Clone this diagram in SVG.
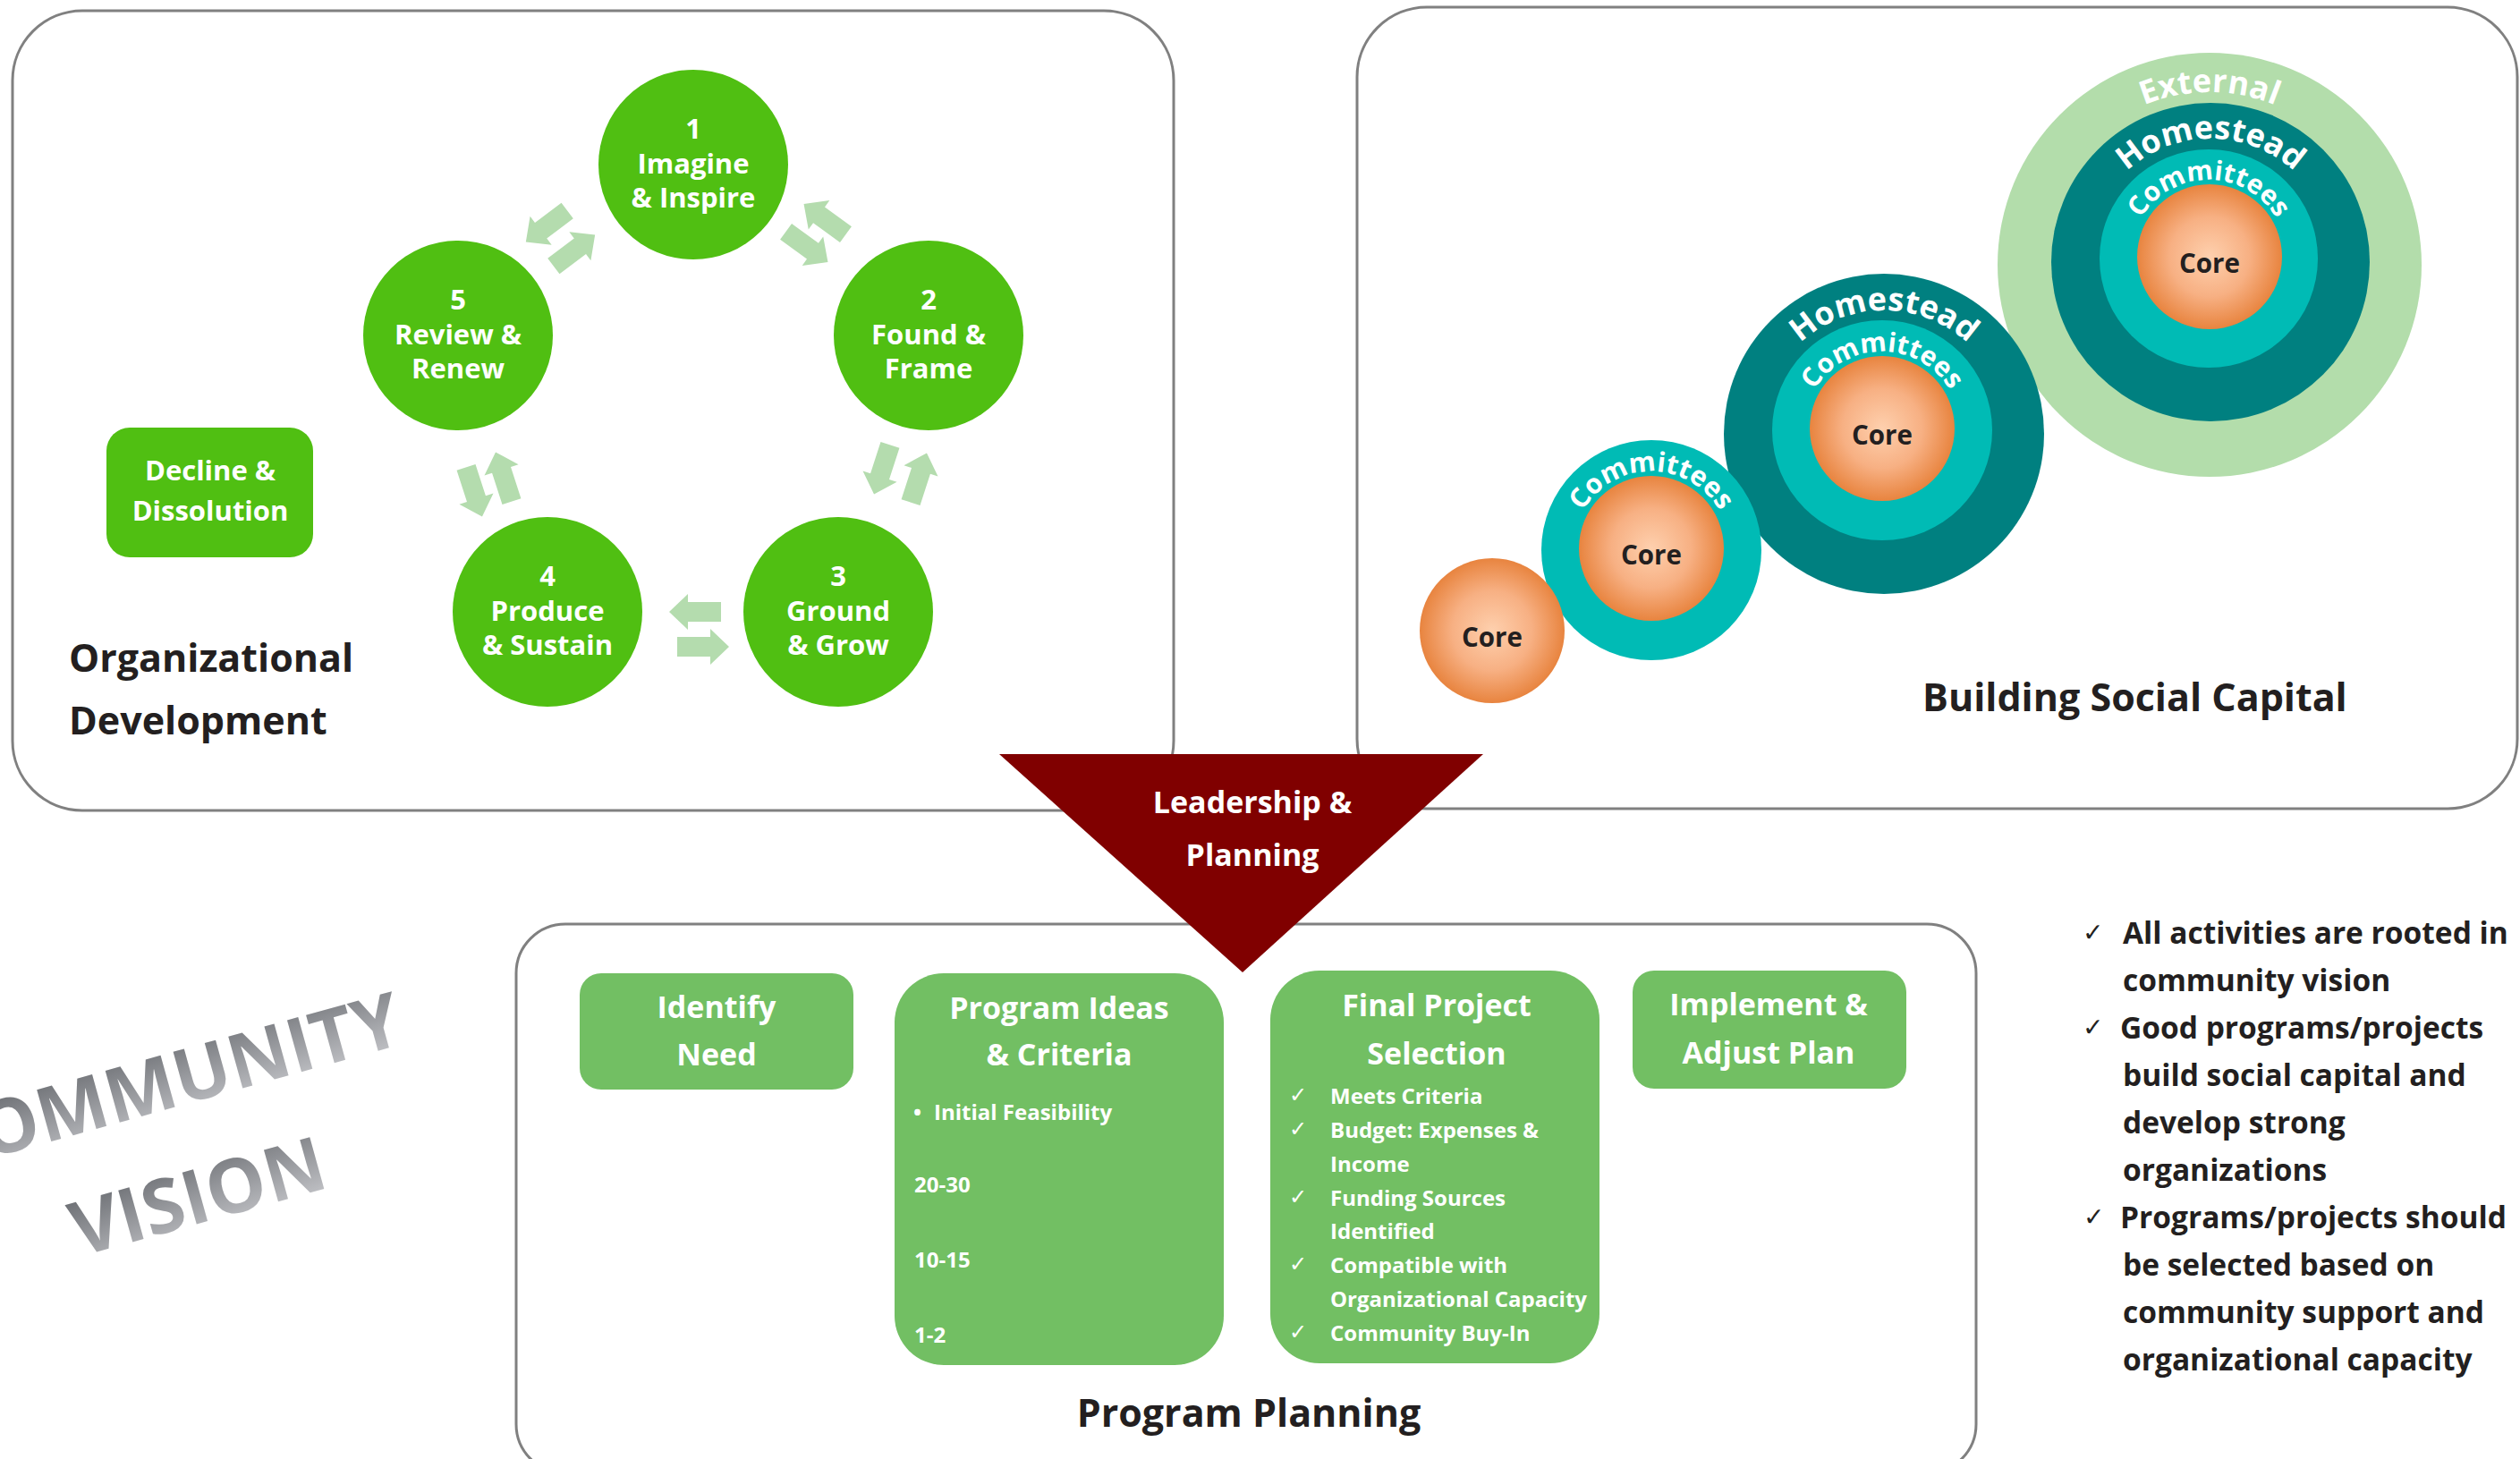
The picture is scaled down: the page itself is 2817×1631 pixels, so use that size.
<svg xmlns="http://www.w3.org/2000/svg" xmlns:xlink="http://www.w3.org/1999/xlink" width="2817" height="1631" viewBox="0 0 2817 1631">
<defs>
<style>
text{font-family:"Open Sans","Liberation Sans",sans-serif;font-weight:700}
.panel{fill:#fff;stroke:#808080;stroke-width:3}
.cyc{fill:#50bf12}
.ct{fill:#fff;font-size:31px;text-anchor:middle}
.ttl{fill:#231f20;font-size:43px}
.box{fill:#72bf63}
.bt{fill:#fff;font-size:34px;text-anchor:middle}
.it{fill:#fff;font-size:24px}
.ck{fill:#fff;font-size:24px;font-family:"DejaVu Sans",sans-serif;font-weight:400}
.rl{fill:#231f20;font-size:33.5px}
.rck{fill:#231f20;font-size:28px;font-family:"DejaVu Sans",sans-serif;font-weight:400}
.core{fill:url(#coreG)}
.ctx{fill:#231f20;font-size:29.5px;text-anchor:middle}
.ext{fill:#b3ddab}
.home{fill:#008080}
.comm{fill:#00bbb5}
.rt{fill:#fff;text-anchor:middle}
.arr{fill:#b4dcae}
.cv{font-size:84px;text-anchor:middle;fill:url(#cvG)}
</style>
<radialGradient id="coreG" cx="50%" cy="50%" r="50%">
<stop offset="0" stop-color="#fed0ae"/>
<stop offset="0.55" stop-color="#f7b083"/>
<stop offset="1" stop-color="#e8843f"/>
</radialGradient>
<linearGradient id="cvG" x1="0" y1="0" x2="0.25" y2="1">
<stop offset="0" stop-color="#56595e"/>
<stop offset="1" stop-color="#c0c1c5"/>
</linearGradient>
<polygon id="arw" class="arr" points="-29,-11 8,-11 8,-20 29,0 8,20 8,11 -29,11"/>
<path id="p4e" d="M2277,296 A193 193 0 0 1 2663,296"/>
<path id="p4h" d="M2333,293 A138 138 0 0 1 2609,293"/>
<path id="p4c" d="M2381,289 A88 88 0 0 1 2557,289"/>
<path id="p3h" d="M1968,485 A138 138 0 0 1 2244,485"/>
<path id="p3c" d="M2016,481 A88 88 0 0 1 2192,481"/>
<path id="p2c" d="M1758,615 A88 88 0 0 1 1934,615"/>
</defs>
<rect width="2817" height="1631" fill="#fff"/>

<g id="panel-org">
<rect class="panel" x="14" y="12" width="1298" height="894" rx="78"/>
<text class="ttl" x="77" y="751">Organizational</text>
<text class="ttl" x="77" y="821">Development</text>
</g>
<g id="panel-social">
<rect class="panel" x="1517" y="8" width="1297" height="896" rx="78"/>
<text class="ttl" x="2149" y="795" font-size="44">Building Social Capital</text>
</g>
<g id="panel-program">
<rect class="panel" x="577" y="1033" width="1632" height="614" rx="55"/>
<text class="ttl" x="1396" y="1595" text-anchor="middle">Program Planning</text>
</g>

<g id="connectors">
<use xlink:href="#arw" transform="translate(611,253) rotate(143)"/>
<use xlink:href="#arw" transform="translate(642,280) rotate(-37)"/>
<use xlink:href="#arw" transform="translate(922,245) rotate(-144)"/>
<use xlink:href="#arw" transform="translate(902,276) rotate(36)"/>
<use xlink:href="#arw" transform="translate(986,525) rotate(108)"/>
<use xlink:href="#arw" transform="translate(1027,534) rotate(-72)"/>
<use xlink:href="#arw" transform="translate(530,550) rotate(72)"/>
<use xlink:href="#arw" transform="translate(563,533) rotate(-108)"/>
<use xlink:href="#arw" transform="translate(777,684) rotate(180)"/>
<use xlink:href="#arw" transform="translate(786,723)"/>
</g>

<g id="node-1">
<circle class="cyc" cx="775" cy="184" r="106"/>
<text class="ct" x="775" y="155">1</text>
<text class="ct" x="775" y="194">Imagine</text>
<text class="ct" x="775" y="232">&amp; Inspire</text>
</g>
<g id="node-2">
<circle class="cyc" cx="1038" cy="375" r="106"/>
<text class="ct" x="1038" y="346">2</text>
<text class="ct" x="1038" y="385">Found &amp;</text>
<text class="ct" x="1038" y="423">Frame</text>
</g>
<g id="node-3">
<circle class="cyc" cx="937" cy="684" r="106"/>
<text class="ct" x="937" y="655">3</text>
<text class="ct" x="937" y="694">Ground</text>
<text class="ct" x="937" y="732">&amp; Grow</text>
</g>
<g id="node-4">
<circle class="cyc" cx="612" cy="684" r="106"/>
<text class="ct" x="612" y="655">4</text>
<text class="ct" x="612" y="694">Produce</text>
<text class="ct" x="612" y="732">&amp; Sustain</text>
</g>
<g id="node-5">
<circle class="cyc" cx="512" cy="375" r="106"/>
<text class="ct" x="512" y="346">5</text>
<text class="ct" x="512" y="385">Review &amp;</text>
<text class="ct" x="512" y="423">Renew</text>
</g>
<g id="node-decline">
<rect class="cyc" x="119" y="478" width="231" height="145" rx="26"/>
<text class="ct" x="235" y="537" font-size="29.5">Decline &amp;</text>
<text class="ct" x="235" y="582" font-size="29.5">Dissolution</text>
</g>

<g id="node-sc4">
<circle class="ext" cx="2470" cy="296" r="237"/>
<circle class="home" cx="2471" cy="293" r="178"/>
<circle class="comm" cx="2469" cy="289" r="122"/>
<circle class="core" cx="2470" cy="287" r="81"/>
<text class="rt" font-size="36"><textPath xlink:href="#p4e" startOffset="50%">External</textPath></text>
<text class="rt" font-size="36"><textPath xlink:href="#p4h" startOffset="50%">Homestead</textPath></text>
<text class="rt" font-size="30"><textPath xlink:href="#p4c" startOffset="50%">Committees</textPath></text>
<text class="ctx" x="2470" y="305">Core</text>
</g>
<g id="node-sc3">
<circle class="home" cx="2106" cy="485" r="179"/>
<circle class="comm" cx="2104" cy="481" r="123"/>
<circle class="core" cx="2104" cy="479" r="81"/>
<text class="rt" font-size="36"><textPath xlink:href="#p3h" startOffset="50%">Homestead</textPath></text>
<text class="rt" font-size="30"><textPath xlink:href="#p3c" startOffset="50%">Committees</textPath></text>
<text class="ctx" x="2104" y="497">Core</text>
</g>
<g id="node-sc2">
<circle class="comm" cx="1846" cy="615" r="123"/>
<circle class="core" cx="1846" cy="613" r="81"/>
<text class="rt" font-size="30.5"><textPath xlink:href="#p2c" startOffset="50%">Committees</textPath></text>
<text class="ctx" x="1846" y="631">Core</text>
</g>
<g id="node-sc1">
<circle class="core" cx="1668" cy="705" r="81"/>
<text class="ctx" x="1668" y="723">Core</text>
</g>

<g id="node-identify">
<rect class="box" x="648" y="1088" width="306" height="130" rx="24"/>
<text class="bt" x="801" y="1138">Identify</text>
<text class="bt" x="801" y="1191">Need</text>
</g>
<g id="node-ideas">
<rect class="box" x="1000" y="1088" width="368" height="438" rx="55"/>
<text class="bt" x="1184" y="1139">Program Ideas</text>
<text class="bt" x="1184" y="1191">&amp; Criteria</text>
<text class="it" x="1021" y="1252">•</text>
<text class="it" x="1044" y="1252">Initial Feasibility</text>
<text class="it" x="1022" y="1333">20-30</text>
<text class="it" x="1022" y="1417">10-15</text>
<text class="it" x="1022" y="1501">1-2</text>
</g>
<g id="node-final">
<rect class="box" x="1420" y="1085" width="368" height="439" rx="55"/>
<text class="bt" x="1606" y="1136">Final Project</text>
<text class="bt" x="1606" y="1190">Selection</text>
<text class="ck" x="1441" y="1232">✓</text>
<text class="it" x="1487" y="1234">Meets Criteria</text>
<text class="ck" x="1441" y="1270">✓</text>
<text class="it" x="1487" y="1272">Budget: Expenses &amp;</text>
<text class="it" x="1487" y="1310">Income</text>
<text class="ck" x="1441" y="1346">✓</text>
<text class="it" x="1487" y="1348">Funding Sources</text>
<text class="it" x="1487" y="1385">Identified</text>
<text class="ck" x="1441" y="1421">✓</text>
<text class="it" x="1487" y="1423">Compatible with</text>
<text class="it" x="1487" y="1461">Organizational Capacity</text>
<text class="ck" x="1441" y="1497">✓</text>
<text class="it" x="1487" y="1499">Community Buy-In</text>
</g>
<g id="node-implement">
<rect class="box" x="1825" y="1085" width="306" height="132" rx="24"/>
<text class="bt" x="1977" y="1135">Implement &amp;</text>
<text class="bt" x="1977" y="1189">Adjust Plan</text>
</g>

<g id="node-leadership">
<polygon points="1117,843 1658,843 1389,1087" fill="#800000"/>
<text class="bt" x="1400" y="909" font-size="40">Leadership &amp;</text>
<text class="bt" x="1400" y="968" font-size="40">Planning</text>
</g>

<g id="community-vision">
<text class="cv" transform="translate(194,1238) rotate(-15.5)">COMMUNITY</text>
<text class="cv" transform="translate(229,1366) rotate(-15.5)">VISION</text>
</g>

<g id="notes">
<text class="rck" x="2328" y="1052">✓</text>
<text class="rl" x="2373" y="1055">All activities are rooted in</text>
<text class="rl" x="2373" y="1108">community vision</text>
<text class="rck" x="2328" y="1158">✓</text>
<text class="rl" x="2370" y="1161">Good programs/projects</text>
<text class="rl" x="2373" y="1214">build social capital and</text>
<text class="rl" x="2373" y="1267">develop strong</text>
<text class="rl" x="2373" y="1320">organizations</text>
<text class="rck" x="2329" y="1370" font-size="24">✓</text>
<text class="rl" x="2370" y="1373">Programs/projects should</text>
<text class="rl" x="2373" y="1426">be selected based on</text>
<text class="rl" x="2373" y="1479">community support and</text>
<text class="rl" x="2373" y="1532">organizational capacity</text>
</g>
</svg>
